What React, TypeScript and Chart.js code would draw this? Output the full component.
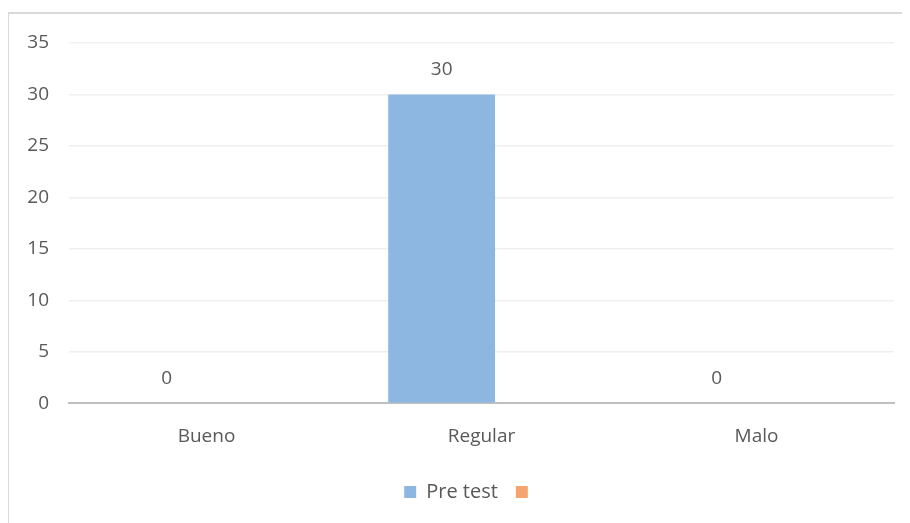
import React, { useEffect, useRef } from "react";
import { Chart, registerables } from "chart.js";

Chart.register(...registerables);

const categories = ["Bueno", "Regular", "Malo"];
const preTest = [0, 30, 0];
const secondSeries: (number | null)[] = [null, null, null];
const yTicks = [0, 5, 10, 15, 20, 25, 30, 35];

const FONT = "'Open Sans', 'Noto Sans', sans-serif";
const TEXT = "#595959";

const valueLabels = {
  id: "valueLabels",
  afterDatasetsDraw(chart: any) {
    const ctx = chart.ctx;
    const meta = chart.getDatasetMeta(0);
    ctx.save();
    ctx.font = `19px ${FONT}`;
    ctx.fillStyle = TEXT;
    ctx.textAlign = "center";
    ctx.textBaseline = "middle";
    meta.data.forEach((el: any, i: number) => {
      const v = chart.data.datasets[0].data[i];
      if (v === null || v === undefined) return;
      ctx.fillText(String(v), el.x, el.y - 25);
    });
    ctx.restore();
  },
};

export default function App() {
  const ref = useRef<HTMLCanvasElement | null>(null);
  useEffect(() => {
    if (!ref.current) return;
    const chart = new Chart(ref.current, {
      type: "bar",
      data: {
        labels: categories,
        datasets: [
          {
            label: "Pre test",
            data: preTest,
            backgroundColor: "#8db6e1",
            categoryPercentage: 0.58,
            barPercentage: 1.34,
          },
          {
            label: "",
            data: secondSeries,
            backgroundColor: "#f4a46e",
            categoryPercentage: 0.58,
            barPercentage: 1.34,
          },
        ],
      },
      options: {
        animation: false,
        responsive: false,
        layout: { padding: { top: 29, right: 0, bottom: 12, left: 12 } },
        plugins: {
          tooltip: { enabled: false },
          legend: {
            position: "bottom",
            labels: {
              boxWidth: 12,
              boxHeight: 12,
              padding: 18,
              color: TEXT,
              font: { family: FONT, size: 20 },
            },
          },
        },
        scales: {
          x: {
            grid: { display: false, drawTicks: false },
            border: { color: "#bfbfbf", width: 2 },
            ticks: { color: TEXT, font: { family: FONT, size: 19 }, padding: 22 },
            afterFit: (s: any) => {
              s.height = s.height - 6;
            },
          },
          y: {
            min: 0,
            max: 35,
            afterBuildTicks: (s: any) => {
              s.ticks = yTicks.map((v) => ({ value: v }));
            },
            afterFit: (s: any) => {
              s.width = 48;
              s.paddingTop = 0;
            },
            grid: { color: "#efefef", lineWidth: 1.5, drawTicks: false },
            border: { display: false },
            ticks: { color: TEXT, font: { family: FONT, size: 19 }, padding: 20 },
          },
          yRight: {
            position: "right",
            min: 0,
            max: 35,
            afterFit: (s: any) => {
              s.width = 27;
              s.paddingTop = 0;
            },
            grid: { display: false, drawTicks: false },
            border: { display: false },
            ticks: { display: false },
          },
        },
      },
      plugins: [valueLabels],
    });
    return () => chart.destroy();
  }, []);

  return (
    <div style={{ width: 902, height: 515, overflow: "hidden" }}>
      <div
        style={{
          position: "relative",
          marginTop: 4,
          marginLeft: -1,
          width: 930,
          height: 540,
          borderLeft: "2px solid #d9d9d9",
          borderTop: "2px solid #d9d9d9",
          boxSizing: "border-box",
        }}
      >
        <canvas
          ref={ref}
          width={912}
          height={510}
          style={{ position: "absolute", left: 0, top: 0, width: 912, height: 510 }}
        />
      </div>
    </div>
  );
}
